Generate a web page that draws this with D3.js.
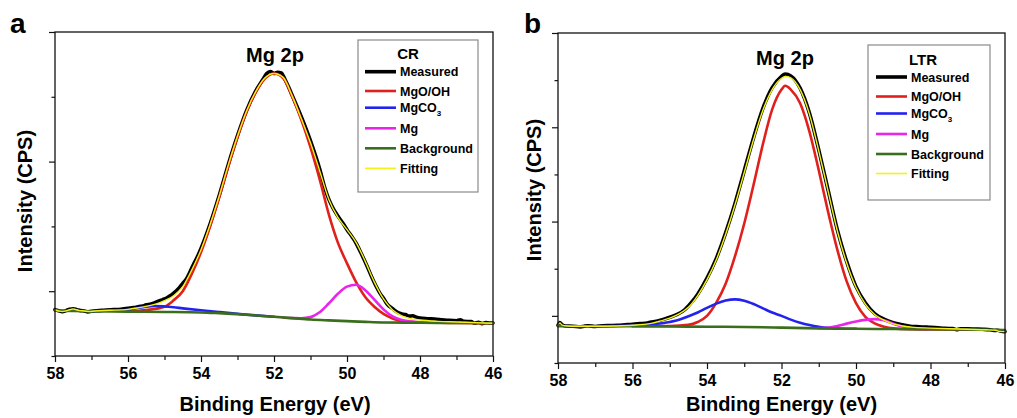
<!DOCTYPE html>
<html>
<head>
<meta charset="utf-8">
<script src="https://cdn.jsdelivr.net/npm/d3@7"></script>
<style>
  html, body { margin: 0; padding: 0; background: #fff; }
  svg { display: block; }
  text { font-family: "Liberation Sans", Arial, sans-serif; font-weight: bold; fill: #000; }
</style>
</head>
<body>
<svg id="chart" width="1017" height="418"></svg>
<script>
// ---------------- DATA ----------------
const xMajorTicks = [58, 56, 54, 52, 50, 48, 46];
const xMinorTicks = [57, 55, 53, 51, 49, 47];
const legendLabels = ["Measured", "MgO/OH", "MgCO3", "Mg", "Background", "Fitting"];
const panelLetters = ["a", "b"];
const legendTitles = ["CR", "LTR"];
const peakLabel = "Mg 2p";
const xTitle = "Binding Energy (eV)";
const yTitle = "Intensity (CPS)";
const aYMajor = [1, 3, 5], aYMinor = [0, 2, 4];
const bYMajor = [1, 3, 5, 7], bYMinor = [0, 2, 4, 6];

// Panel a (CR) : [binding energy eV, intensity (arb.)]
const aMeasured = [[58,0.715],[57.9,0.70],[57.8,0.685],[57.7,0.70],[57.6,0.72],[57.5,0.73],[57.4,0.715],[57.3,0.70],[57.2,0.695],[57.1,0.68],[57,0.69],[56.8,0.70],[56.6,0.71],[56.4,0.715],[56.2,0.72],[56,0.735],[55.9,0.745],[55.8,0.75],[55.7,0.765],[55.6,0.77],[55.5,0.79],[55.4,0.80],[55.3,0.815],[55.2,0.84],[55.1,0.86],[55,0.88],[54.9,0.91],[54.8,0.945],[54.7,0.995],[54.6,1.05],[54.5,1.12],[54.4,1.19],[54.3,1.30],[54.2,1.42],[54.1,1.53],[54,1.66],[53.75,2.04],[53.5,2.48],[53.25,2.96],[53,3.40],[52.75,3.79],[52.5,4.09],[52.3,4.27],[52.2,4.36],[52.1,4.39],[52.0,4.36],[51.9,4.38],[51.8,4.37],[51.7,4.27],[51.6,4.15],[51.5,4.02],[51.25,3.69],[51,3.32],[50.75,2.89],[50.6,2.58],[50.5,2.42],[50.4,2.30],[50.25,2.16],[50.1,2.04],[50,1.95],[49.85,1.83],[49.75,1.74],[49.6,1.57],[49.5,1.45],[49.25,1.13],[49.1,0.97],[49,0.89],[48.9,0.80],[48.75,0.73],[48.6,0.67],[48.5,0.65],[48.4,0.64],[48.3,0.615],[48.2,0.62],[48.1,0.60],[48,0.585],[47.8,0.575],[47.6,0.57],[47.4,0.56],[47.2,0.55],[47,0.545],[46.9,0.56],[46.8,0.535],[46.6,0.53],[46.5,0.505],[46.4,0.52],[46.3,0.50],[46.2,0.515],[46.1,0.51],[46,0.51]];
const aMgOOH = [[56,0.69],[55.5,0.71],[55,0.76],[54.75,0.86],[54.5,1.0],[54.25,1.27],[54,1.60],[53.75,2.0],[53.5,2.45],[53.25,2.93],[53,3.38],[52.75,3.77],[52.5,4.07],[52.25,4.28],[52,4.36],[51.75,4.29],[51.5,4.0],[51.25,3.64],[51,3.22],[50.75,2.73],[50.5,2.19],[50.25,1.75],[50,1.43],[49.75,1.14],[49.5,0.91],[49.25,0.76],[49,0.65],[48.75,0.58],[48.5,0.54],[48,0.52],[47,0.51],[46,0.505]];
const aMgCO3 = [[57,0.69],[56.5,0.70],[56,0.715],[55.75,0.74],[55.5,0.762],[55.25,0.772],[55,0.765],[54.75,0.752],[54.5,0.735],[54,0.705],[53.5,0.678],[53,0.652],[52.5,0.627],[52,0.606]];
const aMg = [[51.75,0.59],[51.5,0.585],[51.25,0.583],[51,0.60],[50.75,0.675],[50.5,0.81],[50.25,0.96],[50,1.07],[49.75,1.10],[49.5,1.015],[49.25,0.87],[49,0.72],[48.75,0.61],[48.5,0.555],[48.25,0.53],[48,0.52],[47.75,0.515]];
const aBackground = [[58,0.70],[57,0.69],[56,0.685],[55,0.68],[54,0.672],[53.5,0.66],[53,0.646],[52.5,0.625],[52,0.605],[51.5,0.585],[51,0.564],[50.5,0.55],[50,0.538],[49.5,0.527],[49,0.518],[48,0.513],[47,0.51],[46,0.505]];
const aFitting = [[58,0.71],[57.9,0.695],[57.8,0.685],[57.65,0.705],[57.5,0.725],[57.35,0.705],[57.2,0.695],[57.05,0.685],[56.9,0.695],[56.5,0.705],[56,0.72],[55.75,0.74],[55.5,0.765],[55.25,0.80],[55,0.855],[54.75,0.93],[54.5,1.07],[54.25,1.33],[54,1.64],[53.75,2.03],[53.5,2.47],[53.25,2.95],[53,3.39],[52.75,3.78],[52.5,4.08],[52.25,4.29],[52,4.36],[51.75,4.30],[51.5,4.01],[51.25,3.66],[51,3.29],[50.75,2.86],[50.5,2.42],[50.25,2.14],[50,1.95],[49.75,1.75],[49.5,1.46],[49.25,1.14],[49,0.88],[48.75,0.71],[48.5,0.62],[48.25,0.575],[48,0.555],[47.5,0.535],[47,0.525],[46.5,0.515],[46,0.505]];

// Panel b (LTR)
const bMeasured = [[58,0.80],[57.95,0.86],[57.9,0.82],[57.8,0.785],[57.6,0.78],[57.4,0.765],[57.3,0.78],[57.2,0.79],[57,0.775],[56.8,0.79],[56.6,0.795],[56.4,0.80],[56.2,0.81],[56,0.82],[55.8,0.835],[55.6,0.85],[55.5,0.87],[55.4,0.88],[55.2,0.92],[55,0.97],[54.8,1.03],[54.6,1.13],[54.5,1.21],[54.4,1.30],[54.25,1.46],[54,1.80],[53.75,2.22],[53.5,2.76],[53.25,3.38],[53,4.08],[52.75,4.78],[52.5,5.40],[52.25,5.84],[52,6.08],[51.9,6.13],[51.75,6.09],[51.5,5.83],[51.25,5.30],[51,4.52],[50.75,3.67],[50.5,2.82],[50.25,2.15],[50,1.62],[49.75,1.28],[49.5,1.05],[49.25,0.93],[49,0.855],[48.75,0.81],[48.5,0.775],[48.3,0.77],[48,0.755],[47.8,0.745],[47.6,0.735],[47.4,0.73],[47.3,0.705],[47.2,0.725],[47,0.725],[46.8,0.72],[46.6,0.715],[46.4,0.705],[46.3,0.69],[46.2,0.695],[46.1,0.675],[46,0.665]];
const bMgOOH = [[56,0.78],[55,0.785],[54.5,0.81],[54.25,0.87],[54,1.0],[53.75,1.28],[53.5,1.68],[53.25,2.26],[53,2.96],[52.75,3.78],[52.5,4.64],[52.25,5.38],[52,5.80],[51.9,5.88],[51.75,5.80],[51.5,5.51],[51.25,4.91],[51,4.09],[50.75,3.21],[50.5,2.40],[50.25,1.73],[50,1.27],[49.75,0.98],[49.5,0.84],[49.25,0.77],[49,0.735],[48.5,0.718],[48,0.713],[47,0.71]];
const bMgCO3 = [[57,0.78],[56.5,0.785],[56,0.795],[55.5,0.82],[55,0.87],[54.75,0.915],[54.5,0.99],[54.25,1.07],[54,1.17],[53.75,1.26],[53.5,1.325],[53.25,1.35],[53,1.32],[52.75,1.25],[52.5,1.16],[52.25,1.07],[52,1.00],[51.75,0.92],[51.5,0.855],[51.25,0.806],[51,0.77],[50.75,0.745],[50.5,0.73],[50,0.725]];
const bMg = [[51,0.74],[50.75,0.745],[50.5,0.785],[50.25,0.835],[50,0.88],[49.75,0.915],[49.5,0.93],[49.25,0.905],[49,0.835],[48.75,0.775],[48.5,0.735],[48.25,0.72],[48,0.715]];
const bBackground = [[58,0.78],[57,0.78],[56,0.78],[55,0.775],[54,0.77],[53,0.765],[52,0.75],[51,0.735],[50,0.725],[49,0.72],[48,0.715],[47,0.71],[46,0.70]];
const bFitting = [[58,0.80],[57.95,0.85],[57.9,0.81],[57.75,0.785],[57.5,0.78],[57,0.78],[56.5,0.785],[56,0.80],[55.5,0.84],[55.25,0.89],[55,0.95],[54.75,1.04],[54.5,1.18],[54.25,1.43],[54,1.77],[53.75,2.19],[53.5,2.73],[53.25,3.35],[53,4.04],[52.75,4.74],[52.5,5.36],[52.25,5.80],[52,6.04],[51.9,6.08],[51.75,6.05],[51.5,5.80],[51.25,5.28],[51,4.50],[50.75,3.65],[50.5,2.80],[50.25,2.12],[50,1.60],[49.75,1.25],[49.5,1.03],[49.25,0.91],[49,0.83],[48.75,0.785],[48.5,0.76],[48,0.74],[47.5,0.725],[47,0.715],[46.5,0.705],[46.25,0.695],[46.15,0.67],[46,0.665]];

// ---------------- STYLES ----------------
const seriesStyle = [
  {color: "#000000", width: 3.6},   // Measured
  {color: "#e0201c", width: 2.6},   // MgO/OH
  {color: "#2323ee", width: 2.6},   // MgCO3
  {color: "#e826e8", width: 2.6},   // Mg
  {color: "#3a6d1c", width: 2.6},   // Background
  {color: "#f2f21a", width: 1.4}    // Fitting
];

const svg = d3.select("#chart");

function drawPanel(p) {
  const x = d3.scaleLinear().domain([58, 46]).range([p.x0, p.x1]);
  const y = d3.scaleLinear().domain(p.yDomain).range([p.y1, p.y0]);
  const g = svg.append("g");

  const line = d3.line().x(d => x(d[0])).y(d => y(d[1])).curve(d3.curveMonotoneX);
  p.series.forEach((s, i) => {
    const data = s.slice().sort((a, b) => b[0] - a[0]);
    g.append("path").attr("d", line(data))
      .attr("fill", "none")
      .attr("stroke", seriesStyle[i].color)
      .attr("stroke-width", seriesStyle[i].width)
      .attr("stroke-linejoin", "round")
      .attr("stroke-linecap", "round");
  });

  g.append("rect").attr("x", p.x0).attr("y", p.y0)
    .attr("width", p.x1 - p.x0).attr("height", p.y1 - p.y0)
    .attr("fill", "none").attr("stroke", "#111").attr("stroke-width", 1.3);

  const xa = g.append("g").attr("transform", `translate(0,${p.y1})`)
    .call(d3.axisBottom(x).tickValues(xMajorTicks).tickSize(6).tickPadding(6).tickFormat(d3.format("d")));
  const xm = g.append("g").attr("transform", `translate(0,${p.y1})`)
    .call(d3.axisBottom(x).tickValues(xMinorTicks).tickSize(4).tickFormat(""));
  const ya = g.append("g").attr("transform", `translate(${p.x0},0)`)
    .call(d3.axisLeft(y).tickValues(p.yMajor).tickSize(6).tickFormat(""));
  const ym = g.append("g").attr("transform", `translate(${p.x0},0)`)
    .call(d3.axisLeft(y).tickValues(p.yMinor).tickSize(3.5).tickFormat(""));
  [xa, xm, ya, ym].forEach(a => {
    a.select(".domain").remove();
    a.selectAll("line").attr("stroke", "#111").attr("stroke-width", 1.2);
  });
  xa.selectAll("text").attr("font-size", 16).attr("font-family", "Liberation Sans, Arial, sans-serif")
    .attr("font-weight", "bold").attr("fill", "#000");

  g.append("text").attr("x", (p.x0 + p.x1) / 2 + p.xTitleDx).attr("y", 411)
    .attr("text-anchor", "middle").attr("font-size", 20).text(xTitle);
  g.append("text").attr("transform", `translate(${p.yTitleX},${p.yTitleY}) rotate(-90)`)
    .attr("text-anchor", "middle").attr("font-size", 20).text(yTitle);
  g.append("text").attr("x", p.letterX).attr("y", 33).attr("font-size", 28).text(p.letter);
  g.append("text").attr("x", p.peakX).attr("y", p.peakY).attr("text-anchor", "middle")
    .attr("font-size", 20).text(peakLabel);

  const L = p.legend;
  g.append("rect").attr("x", L.x).attr("y", L.y).attr("width", L.w).attr("height", L.h)
    .attr("fill", "#fff").attr("stroke", "#8a8a8a").attr("stroke-width", 1.2);
  g.append("text").attr("x", L.titleX).attr("y", L.titleY).attr("text-anchor", "middle")
    .attr("font-size", 15).text(p.legendTitle);
  legendLabels.forEach((lab, i) => {
    const ly = L.rows[i];
    g.append("line").attr("x1", L.lx0).attr("x2", L.lx1).attr("y1", ly).attr("y2", ly)
      .attr("stroke", seriesStyle[i].color)
      .attr("stroke-width", i === 0 ? 3.6 : (i === 5 ? 1.6 : 2.6));
    const t = g.append("text").attr("x", L.lx1 + 4).attr("y", ly + 4.5).attr("font-size", 12.5);
    if (lab === "MgCO3") {
      t.append("tspan").text("MgCO");
      t.append("tspan").attr("font-size", 8).attr("dy", 4).text("3");
    } else {
      t.text(lab);
    }
  });
}

drawPanel({
  x0: 55, x1: 493, y0: 32, y1: 356, yDomain: [0, 5],
  yMajor: aYMajor, yMinor: aYMinor,
  series: [aMeasured, aMgOOH, aMgCO3, aMg, aBackground, aFitting],
  letter: panelLetters[0], letterX: 10,
  xTitleDx: 1, yTitleX: 32, yTitleY: 201,
  peakX: 275, peakY: 62,
  legendTitle: legendTitles[0],
  legend: {x: 358, y: 40, w: 120, h: 152, titleX: 408, titleY: 59,
           lx0: 365, lx1: 396, rows: [71.7, 91, 107.7, 128.3, 148.3, 168.3]}
});

drawPanel({
  x0: 558, x1: 1005, y0: 33, y1: 363, yDomain: [0, 7],
  yMajor: bYMajor, yMinor: bYMinor,
  series: [bMeasured, bMgOOH, bMgCO3, bMg, bBackground, bFitting],
  letter: panelLetters[1], letterX: 524,
  xTitleDx: 0, yTitleX: 541, yTitleY: 190,
  peakX: 785, peakY: 65,
  legendTitle: legendTitles[1],
  legend: {x: 868, y: 45, w: 122, h: 155, titleX: 923, titleY: 65,
           lx0: 876, lx1: 907, rows: [77, 96.5, 113.5, 134, 154, 173.5]}
});
</script>
</body>
</html>
